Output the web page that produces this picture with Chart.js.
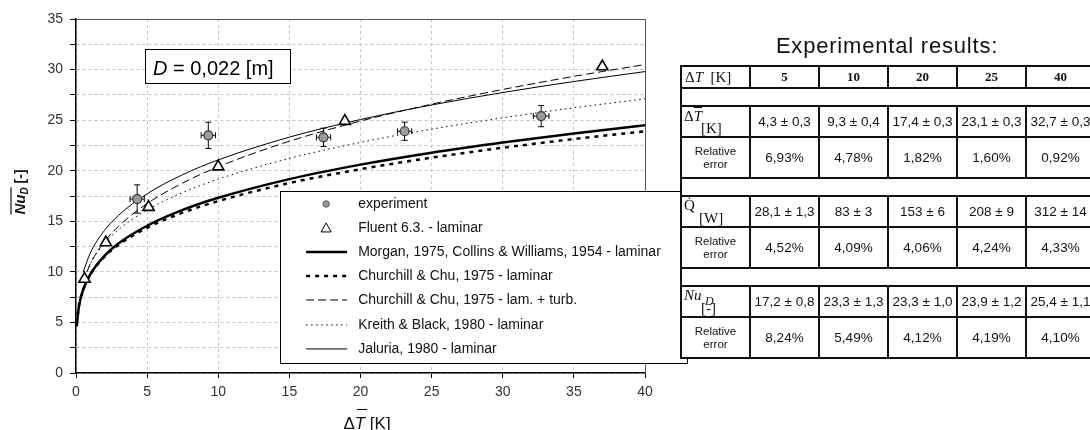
<!DOCTYPE html>
<html>
<head>
<meta charset="utf-8">
<script src="https://cdn.jsdelivr.net/npm/chart.js@4.4.0/dist/chart.umd.min.js"></script>
<style>
html, body { margin: 0; padding: 0; background: #fff; width: 1090px; height: 430px; overflow: hidden; }
#wrap { position: absolute; left: 0; top: 0; width: 690px; height: 430px; }
#title { position: absolute; left: 680px; width: 414px; top: 35px; text-align: center;
  font: 22px/22px "Liberation Sans", Arial, sans-serif; letter-spacing: 0.8px; color: #111; }
#tbl { position: absolute; left: 680px; top: 65px; border-collapse: collapse; background: #fff;
  table-layout: fixed; width: 414px; font-family: "Liberation Sans", Arial, sans-serif; color: #111; }
#tbl td { border: 2px solid #111; padding: 0; text-align: center; font-size: 13.5px; white-space: nowrap; overflow: hidden; }
#tbl tr.hd td { height: 20px; font: bold 13px "Liberation Serif", serif; }
#tbl tr.hd td.tex { font: 15px "Liberation Serif", serif; text-align: left; padding-left: 3px; }
#tbl tr.gap td { height: 16px; }
#tbl tr.val td { height: 29px; }
#tbl tr.rel td { height: 39px; }
#tbl td.small { font-size: 11.5px; line-height: 13px; }
.lbl { position: relative; height: 29px; font: 15px "Liberation Serif", serif; text-align: left; }
.lbl span { position: absolute; }
.ov { text-decoration: overline; }
</style>
</head>
<body>
<div id="wrap"><canvas id="chart"></canvas></div>
<div id="title">Experimental results:</div>
<table id="tbl"></table>
<script>
// correlations drawn from the start of the axis
const thickX = [0.05, 0.2, 0.5, 1, 2, 3, 5, 7.5, 10, 15, 20, 25, 30, 35, 40];
const morganY = [4.61, 6.51, 8.19, 9.74, 11.58, 12.82, 14.56, 16.12, 17.32, 19.17, 20.60, 21.78, 22.79, 23.69, 24.50];
const churchillLamY = [4.79, 6.62, 8.23, 9.72, 11.49, 12.68, 14.36, 15.85, 17.00, 18.78, 20.15, 21.29, 22.27, 23.13, 23.90];

// correlations that start near the first Fluent point
const thinX = [0.5, 1, 2, 3, 5, 7.5, 10, 15, 20, 25, 30, 35, 40];
const churchillTurbY = [8.96, 10.77, 12.99, 14.52, 16.75, 18.78, 20.39, 22.91, 24.91, 26.58, 28.03, 29.33, 30.50];
const kreithY = [9.06, 10.78, 12.82, 14.19, 16.12, 17.84, 19.17, 21.22, 22.80, 24.11, 25.23, 26.22, 27.11];
const jaluriaY = [9.96, 11.85, 14.09, 15.60, 17.72, 19.61, 21.07, 23.32, 25.06, 26.50, 27.73, 28.82, 29.80];

const expX = [4.3, 9.3, 17.4, 23.1, 32.7];
const expY = [17.2, 23.5, 23.3, 23.9, 25.4];
const expXErr = [0.5, 0.5, 0.5, 0.5, 0.55];
const expYErr = [1.4, 1.3, 0.9, 0.9, 1.05];

const fluentX = [0.6, 2.1, 5.1, 10.0, 18.9, 37.0];
const fluentY = [9.3, 12.9, 16.4, 20.4, 24.9, 30.3];

const labels = ['experiment', 'Fluent 6.3. - laminar', 'Morgan, 1975, Collins & Williams, 1954 - laminar',
  'Churchill & Chu, 1975 - laminar', 'Churchill & Chu, 1975 - lam. + turb.', 'Kreith & Black, 1980 - laminar',
  'Jaluria, 1980 - laminar'];

// table
const tableDT = ['5', '10', '20', '25', '40'];
const tableDTbar = ['4,3 ± 0,3', '9,3 ± 0,4', '17,4 ± 0,3', '23,1 ± 0,3', '32,7 ± 0,3'];
const tableDTbarErr = ['6,93%', '4,78%', '1,82%', '1,60%', '0,92%'];
const tableQ = ['28,1 ± 1,3', '83 ± 3', '153 ± 6', '208 ± 9', '312 ± 14'];
const tableQErr = ['4,52%', '4,09%', '4,06%', '4,24%', '4,33%'];
const tableNu = ['17,2 ± 0,8', '23,3 ± 1,3', '23,3 ± 1,0', '23,9 ± 1,2', '25,4 ± 1,1'];
const tableNuErr = ['8,24%', '5,49%', '4,12%', '4,19%', '4,10%'];

const pts = (xs, ys) => xs.map((x, i) => ({x: x, y: ys[i]}));

function buildTable() {
  const cells = arr => arr.map(v => '<td>' + v + '</td>').join('');
  const gap = '<tr class="gap"><td colspan="6"></td></tr>';
  const rel = arr => '<tr class="rel"><td class="small">Relative<br>error</td>' + cells(arr) + '</tr>';
  let h = '<colgroup>' + '<col style="width:69px">'.repeat(6) + '</colgroup>';
  h += '<tr class="hd"><td class="tex">Δ<i>T</i>&nbsp;&nbsp;[K]</td>' + cells(tableDT) + '</tr>' + gap;
  h += '<tr class="val"><td><div class="lbl"><span style="left:2px;top:1px">Δ<i class="ov">T</i></span>' +
       '<span style="left:19px;top:13px">[K]</span></div></td>' + cells(tableDTbar) + '</tr>';
  h += rel(tableDTbarErr) + gap;
  h += '<tr class="val"><td><div class="lbl"><span style="left:2px;top:0">Q&#775;</span>' +
       '<span style="left:17px;top:13px">[W]</span></div></td>' + cells(tableQ) + '</tr>';
  h += rel(tableQErr) + gap;
  h += '<tr class="val"><td><div class="lbl"><span style="left:2px;top:0"><i class="ov">Nu</i></span>' +
       '<span style="left:23px;top:7px;font-size:12px"><i>D</i></span>' +
       '<span style="left:19px;top:13px">[-]</span></div></td>' + cells(tableNu) + '</tr>';
  h += rel(tableNuErr);
  document.getElementById('tbl').innerHTML = h;
}
buildTable();

const errorBars = {
  id: 'errorBars',
  beforeDatasetDraw(chart, args) {
    if (args.index !== 0) return;
    const {ctx, scales: {x, y}} = chart;
    ctx.save();
    ctx.strokeStyle = '#000';
    ctx.lineWidth = 1;
    expX.forEach((v, i) => {
      const px = x.getPixelForValue(v), py = y.getPixelForValue(expY[i]);
      const top = y.getPixelForValue(expY[i] + expYErr[i]);
      const bot = y.getPixelForValue(expY[i] - expYErr[i]);
      const l = x.getPixelForValue(v - expXErr[i]);
      const r = x.getPixelForValue(v + expXErr[i]);
      ctx.beginPath();
      ctx.moveTo(px, top); ctx.lineTo(px, bot);
      ctx.moveTo(px - 3, top); ctx.lineTo(px + 3, top);
      ctx.moveTo(px - 3, bot); ctx.lineTo(px + 3, bot);
      ctx.moveTo(l, py); ctx.lineTo(r, py);
      ctx.moveTo(l, py - 3); ctx.lineTo(l, py + 3);
      ctx.moveTo(r, py - 3); ctx.lineTo(r, py + 3);
      ctx.stroke();
    });
    ctx.restore();
  }
};

const extras = {
  id: 'extras',
  afterDraw(chart) {
    const {ctx, chartArea: a, scales: {x, y}} = chart;
    const sans = '"Liberation Sans", Arial, sans-serif';
    ctx.save();
    // top and right frame
    ctx.strokeStyle = '#555';
    ctx.lineWidth = 1;
    ctx.beginPath();
    ctx.moveTo(a.left, a.top + 0.5); ctx.lineTo(a.right + 0.5, a.top + 0.5); ctx.lineTo(a.right + 0.5, a.bottom);
    ctx.stroke();

    // D box
    const dl = x.getPixelForValue(4.85), dr = x.getPixelForValue(15.04);
    const dt = y.getPixelForValue(32.08), db = y.getPixelForValue(28.7);
    ctx.fillStyle = '#fff';
    ctx.fillRect(dl, dt, dr - dl, db - dt);
    ctx.strokeStyle = '#000';
    ctx.strokeRect(Math.round(dl) + 0.5, Math.round(dt) + 0.5, Math.round(dr - dl), Math.round(db - dt));
    ctx.fillStyle = '#000';
    ctx.textBaseline = 'alphabetic';
    ctx.textAlign = 'left';
    ctx.font = 'italic 20px ' + sans;
    ctx.fillText('D', dl + 8, dt + 26);
    const wD = ctx.measureText('D').width;
    ctx.font = '20px ' + sans;
    ctx.fillText(' = 0,022 [m]', dl + 8 + wD, dt + 26);

    // legend box
    const ll = x.getPixelForValue(14.35), lr = a.right + 42;
    const lt = y.getPixelForValue(18.0), lb = y.getPixelForValue(0.95);
    ctx.fillStyle = '#fff';
    ctx.fillRect(ll, lt, lr - ll, lb - lt);
    ctx.strokeStyle = '#000';
    ctx.strokeRect(Math.round(ll) + 0.5, Math.round(lt) + 0.5, Math.round(lr - ll), Math.round(lb - lt));
    const rows = [13, 37, 61, 85, 109, 134, 158];
    chart.data.datasets.forEach((ds, i) => {
      const ry = lt + rows[i];
      ctx.save();
      if (i === 0) {
        ctx.beginPath(); ctx.arc(ll + 46, ry, 3.2, 0, Math.PI * 2);
        ctx.fillStyle = '#999'; ctx.fill(); ctx.strokeStyle = '#555'; ctx.stroke();
      } else if (i === 1) {
        ctx.beginPath(); ctx.moveTo(ll + 46, ry - 5); ctx.lineTo(ll + 51, ry + 4); ctx.lineTo(ll + 41, ry + 4); ctx.closePath();
        ctx.fillStyle = '#fff'; ctx.fill(); ctx.strokeStyle = '#000'; ctx.lineWidth = 1; ctx.stroke();
      } else {
        ctx.beginPath();
        ctx.setLineDash(ds.borderDash || []);
        ctx.lineWidth = ds.borderWidth;
        ctx.strokeStyle = ds.borderColor;
        ctx.moveTo(ll + 26, ry); ctx.lineTo(ll + 67, ry); ctx.stroke();
      }
      ctx.restore();
      ctx.fillStyle = '#111';
      ctx.font = '14px ' + sans;
      ctx.textBaseline = 'middle';
      ctx.fillText(ds.label, ll + 78, ry);
    });

    // y title
    ctx.save();
    ctx.translate(25, 192);
    ctx.rotate(-Math.PI / 2);
    ctx.textBaseline = 'alphabetic';
    ctx.fillStyle = '#111';
    const f1 = 'italic bold 15px ' + sans, f2 = 'italic bold 10px ' + sans, f3 = 'bold 14px ' + sans;
    ctx.font = f1; const wNu = ctx.measureText('Nu').width;
    ctx.font = f2; const wSub = ctx.measureText('D').width;
    ctx.font = f3; const wB = ctx.measureText(' [-]').width;
    const x0 = -(wNu + wSub + wB) / 2;
    ctx.font = f1; ctx.fillText('Nu', x0, 0);
    ctx.font = f2; ctx.fillText('D', x0 + wNu, 3);
    ctx.font = f3; ctx.fillText(' [-]', x0 + wNu + wSub, 0);
    ctx.beginPath(); ctx.moveTo(x0, -14); ctx.lineTo(x0 + wNu + wSub, -14);
    ctx.lineWidth = 1.2; ctx.strokeStyle = '#111'; ctx.stroke();
    ctx.restore();

    // x title
    ctx.fillStyle = '#111';
    ctx.textBaseline = 'alphabetic';
    ctx.font = '17px ' + sans; const wDelta = ctx.measureText('Δ').width;
    ctx.font = 'italic 17px ' + sans; const wT = ctx.measureText('T').width;
    ctx.font = '17px ' + sans; const wK = ctx.measureText(' [K]').width;
    const xs = 367 - (wDelta + wT + wK) / 2, base = 429;
    ctx.fillText('Δ', xs, base);
    ctx.font = 'italic 17px ' + sans; ctx.fillText('T', xs + wDelta, base);
    ctx.font = '17px ' + sans; ctx.fillText(' [K]', xs + wDelta + wT, base);
    ctx.beginPath(); ctx.moveTo(xs + wDelta + 2, 409.5); ctx.lineTo(xs + wDelta + wT + 2, 409.5);
    ctx.lineWidth = 1; ctx.strokeStyle = '#111'; ctx.stroke();
    ctx.restore();
  }
};

Chart.defaults.font.family = '"Liberation Sans", Arial, sans-serif';
Chart.defaults.font.size = 14;
Chart.defaults.color = '#333';

const lineDs = (label, xs, ys, width, dash) => ({
  label: label, data: pts(xs, ys), showLine: true, pointRadius: 0, borderColor: '#000',
  borderWidth: width, borderDash: dash, fill: false, cubicInterpolationMode: 'monotone'
});

new Chart(document.getElementById('chart'), {
  type: 'scatter',
  data: {
    datasets: [
      { label: labels[0], data: pts(expX, expY), pointStyle: 'circle', pointRadius: 4.5,
        pointBackgroundColor: '#9a9a9a', pointBorderColor: '#333', pointBorderWidth: 1.2 },
      { label: labels[1], data: pts(fluentX, fluentY), pointStyle: 'triangle', pointRadius: 6.5,
        pointBackgroundColor: '#fff', pointBorderColor: '#000', pointBorderWidth: 1.6 },
      lineDs(labels[2], thickX, morganY, 2.5, []),
      lineDs(labels[3], thickX, churchillLamY, 2.5, [4, 5]),
      lineDs(labels[4], thinX, churchillTurbY, 1, [8, 4]),
      lineDs(labels[5], thinX, kreithY, 1, [1.5, 3.5]),
      lineDs(labels[6], thinX, jaluriaY, 1, [])
    ]
  },
  options: {
    responsive: true,
    maintainAspectRatio: false,
    animation: false,
    layout: { padding: { top: 19, right: 45, left: 0, bottom: 0 } },
    plugins: { legend: { display: false }, tooltip: { enabled: false } },
    scales: {
      x: {
        type: 'linear', min: 0, max: 40,
        ticks: { stepSize: 5, padding: 6, color: '#333' },
        grid: { color: '#c4c4c4', tickColor: '#000', tickLength: 5, tickBorderDash: [] },
        border: { color: '#000', width: 1.5, dash: [3, 3] },
        afterFit(scale) { scale.height = 57; }
      },
      y: {
        type: 'linear', min: 0, max: 35,
        ticks: { stepSize: 2.5, maxTicksLimit: 20, padding: 7, color: '#333',
          callback: v => (v % 5 === 0 ? v : '') },
        grid: { color: '#c4c4c4', tickColor: '#000', tickLength: 6, tickBorderDash: [] },
        border: { color: '#000', width: 1.5, dash: [3, 3] },
        afterFit(scale) { scale.width = 76; }
      }
    }
  },
  plugins: [errorBars, extras]
});
</script>
</body>
</html>
